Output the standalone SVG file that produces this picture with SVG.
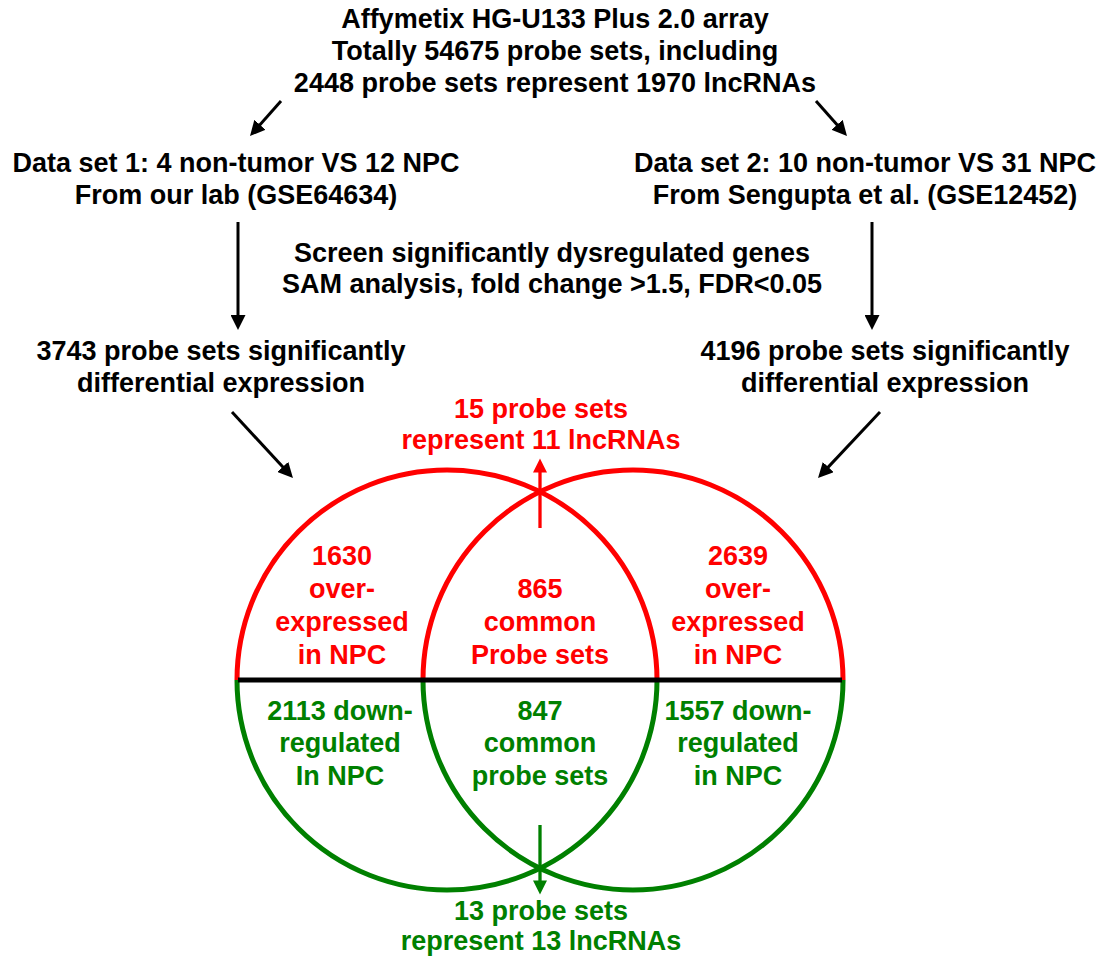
<svg xmlns="http://www.w3.org/2000/svg" width="1103" height="957" viewBox="0 0 1103 957">
<style>
text{font-family:"Liberation Sans",Arial,sans-serif;font-weight:bold;font-size:27px;text-anchor:middle}
.k{fill:#000}
.r{fill:#ff0000}
.g{fill:#008000}
.ak{stroke:#000;stroke-width:3;fill:none}
.ar{stroke:#ff0000;stroke-width:3.3;fill:none}
.ag{stroke:#008000;stroke-width:3.3;fill:none}
.cr{stroke:#ff0000;stroke-width:5;fill:none}
.cg{stroke:#008000;stroke-width:5;fill:none}
</style>
<defs>
<marker id="mk" viewBox="0 0 10 10" refX="6.7" refY="5" markerWidth="15" markerHeight="15" markerUnits="userSpaceOnUse" orient="auto"><path d="M0,0 L10,5 L0,10 z" fill="#000"/></marker>
<marker id="mr" viewBox="0 0 10 10" refX="6.7" refY="5" markerWidth="15" markerHeight="14" markerUnits="userSpaceOnUse" orient="auto"><path d="M0,0 L10,5 L0,10 z" fill="#ff0000"/></marker>
<marker id="mg" viewBox="0 0 10 10" refX="6.7" refY="5" markerWidth="15" markerHeight="14" markerUnits="userSpaceOnUse" orient="auto"><path d="M0,0 L10,5 L0,10 z" fill="#008000"/></marker>
</defs>
<g id="title">
<text class="k" x="555" y="28">Affymetix HG-U133 Plus 2.0 array</text>
<text class="k" x="555" y="60">Totally 54675 probe sets, including</text>
<text class="k" x="555" y="92">2448 probe sets represent 1970 lncRNAs</text>
</g>
<g id="dataset1">
<text class="k" x="236" y="172">Data set 1: 4 non-tumor VS 12 NPC</text>
<text class="k" x="236" y="204">From our lab (GSE64634)</text>
</g>
<g id="dataset2">
<text class="k" x="865" y="172">Data set 2: 10 non-tumor VS 31 NPC</text>
<text class="k" x="865" y="204">From Sengupta et al. (GSE12452)</text>
</g>
<g id="screen">
<text class="k" x="552" y="262">Screen significantly dysregulated genes</text>
<text class="k" x="552" y="293">SAM analysis, fold change &gt;1.5, FDR&lt;0.05</text>
</g>
<g id="diff1">
<text class="k" x="221" y="360">3743 probe sets significantly</text>
<text class="k" x="221" y="392">differential expression</text>
</g>
<g id="diff2">
<text class="k" x="885" y="360">4196 probe sets significantly</text>
<text class="k" x="885" y="392">differential expression</text>
</g>
<g id="venn">
<path class="cr" d="M237,680 A210,210 0 0 1 657,680"/>
<path class="cr" d="M423,680 A210,210 0 0 1 843,680"/>
<path class="cg" d="M237,680 A210,210 0 0 0 657,680"/>
<path class="cg" d="M423,680 A210,210 0 0 0 843,680"/>
<line x1="238" y1="680" x2="842" y2="680" stroke="#000" stroke-width="5"/>
</g>
<g id="up-left">
<text class="r" x="342" y="565">1630</text>
<text class="r" x="342" y="598">over-</text>
<text class="r" x="342" y="631">expressed</text>
<text class="r" x="342" y="664">in NPC</text>
</g>
<g id="up-common">
<text class="r" x="540" y="598">865</text>
<text class="r" x="540" y="631">common</text>
<text class="r" x="540" y="664">Probe sets</text>
</g>
<g id="up-right">
<text class="r" x="738" y="565">2639</text>
<text class="r" x="738" y="598">over-</text>
<text class="r" x="738" y="631">expressed</text>
<text class="r" x="738" y="664">in NPC</text>
</g>
<g id="down-left">
<text class="g" x="340" y="720">2113 down-</text>
<text class="g" x="340" y="752">regulated</text>
<text class="g" x="340" y="785">In NPC</text>
</g>
<g id="down-common">
<text class="g" x="540" y="720">847</text>
<text class="g" x="540" y="752">common</text>
<text class="g" x="540" y="785">probe sets</text>
</g>
<g id="down-right">
<text class="g" x="738" y="720">1557 down-</text>
<text class="g" x="738" y="752">regulated</text>
<text class="g" x="738" y="785">in NPC</text>
</g>
<g id="lnc-up">
<text class="r" x="541" y="418">15 probe sets</text>
<text class="r" x="541" y="449">represent 11 lncRNAs</text>
</g>
<g id="lnc-down">
<text class="g" x="541" y="920">13 probe sets</text>
<text class="g" x="541" y="950">represent 13 lncRNAs</text>
</g>
<g id="connectors">
<line class="ak" x1="281" y1="101" x2="253.3" y2="132.3" marker-end="url(#mk)"/>
<line class="ak" x1="816" y1="101" x2="843.7" y2="132.3" marker-end="url(#mk)"/>
<line class="ak" x1="238" y1="222" x2="238" y2="325" marker-end="url(#mk)"/>
<line class="ak" x1="872" y1="222" x2="872" y2="325" marker-end="url(#mk)"/>
<line class="ak" x1="232" y1="412" x2="289.6" y2="474.3" marker-end="url(#mk)"/>
<line class="ak" x1="880" y1="412" x2="821.4" y2="474.4" marker-end="url(#mk)"/>
<line class="ar" x1="540" y1="528" x2="540" y2="463" marker-end="url(#mr)"/>
<line class="ag" x1="540" y1="825" x2="540" y2="890" marker-end="url(#mg)"/>
</g>
</svg>
